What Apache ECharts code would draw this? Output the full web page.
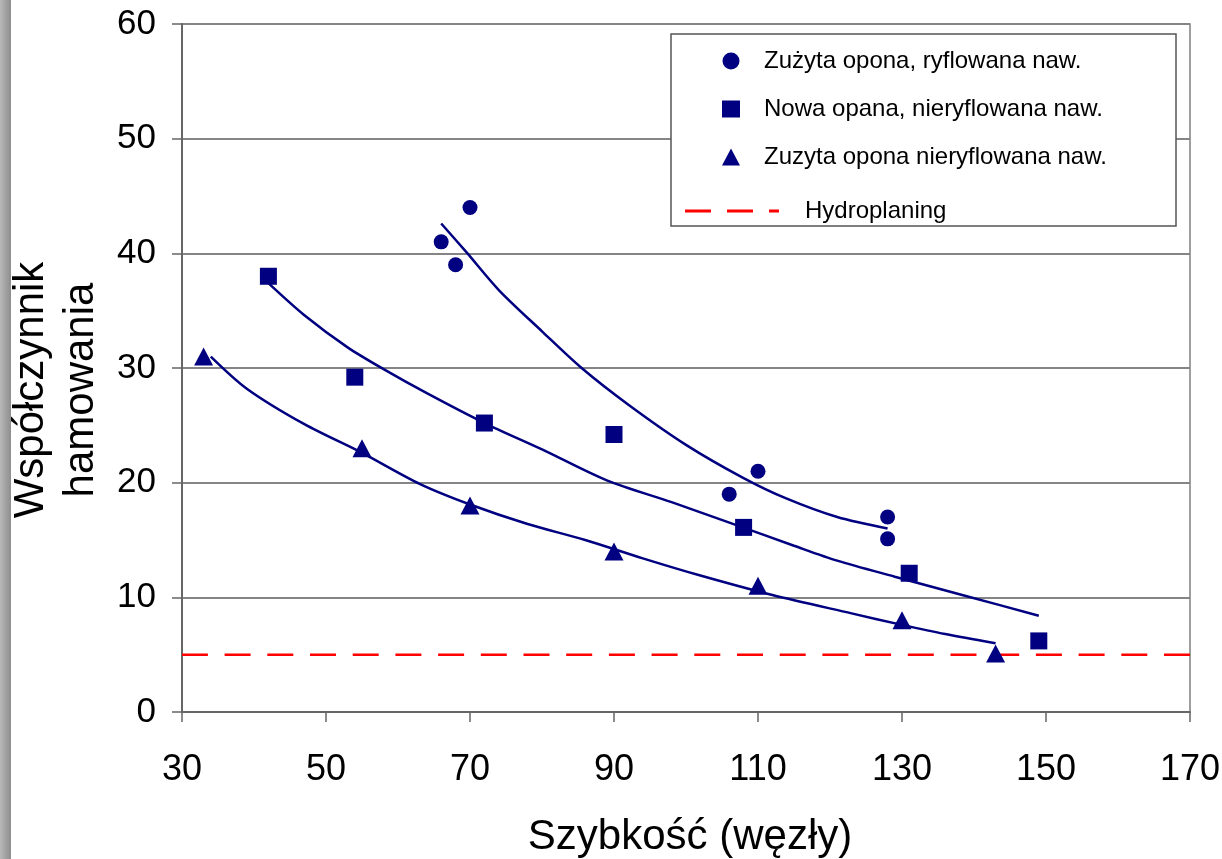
<!DOCTYPE html>
<html>
<head>
<meta charset="utf-8">
<title>Współczynnik hamowania</title>
<script src="https://cdn.jsdelivr.net/npm/echarts@6/dist/echarts.min.js"></script>
<style>
  html, body { margin: 0; padding: 0; background: #fff; }
  #chart { width: 1222px; height: 859px; }
</style>
</head>
<body>
<div id="chart"></div>
<script>
// nazwy serii
var seriesNames = ['Zużyta opona, ryflowana naw.', 'Nowa opana, nieryflowana naw.', 'Zuzyta opona nieryflowana naw.', 'Hydroplaning'];

// punkty pomiarowe [szybkość, współczynnik]
var wornGrooved = [[66, 41], [68, 39], [70, 44], [106, 19], [110, 21], [128, 17], [128, 15.1]];
var newUngrooved = [[42, 38], [54, 29.2], [72, 25.2], [90, 24.2], [108, 16.1], [131, 12.1], [149, 6.2]];
var wornUngrooved = [[33, 31], [55, 23], [70, 18], [90, 14], [110, 11], [130, 8], [143, 5.1]];

// linie trendu
var trendWornGrooved = [[66, 42.6], [69.5, 40.1], [74, 36.8], [80, 33.2], [85.5, 30], [92, 26.8], [100, 23.3], [108, 20.4], [114, 18.6], [121, 17.0], [128, 16.0]];
var trendNewUngrooved = [[42, 37.4], [47, 34.6], [53, 31.8], [58, 29.9], [64, 27.8], [72, 25.2], [80, 22.9], [89, 20.2], [98, 18.3], [107, 16.3], [115, 14.5], [121, 13.2], [129, 11.8], [139, 10.1], [149, 8.4]];
var trendWornUngrooved = [[34, 31.0], [39, 28.2], [47, 25.1], [55, 22.6], [63, 19.9], [70, 18.1], [78, 16.4], [86, 15.0], [94, 13.4], [102, 11.9], [112, 10.2], [123, 8.6], [130, 7.6], [136, 6.8], [143, 6.0]];

// granica hydroplaningu (od prawej do lewej)
var hydroLine = [[170, 5], [30, 5]];

// osie
var xMin = 30, xMax = 170, xStep = 20;
var yMin = 0, yMax = 60, yStep = 10;

var navy = '#000080';
var font = '"Liberation Sans", Arial, sans-serif';

var chart = echarts.init(document.getElementById('chart'));

function trendSeries(name, data) {
    return {
        name: name,
        type: 'line',
        data: data,
        smooth: 0.3,
        symbol: 'none',
        silent: true,
        lineStyle: { color: navy, width: 2.5 },
        z: 3
    };
}

var option = {
    backgroundColor: '#fff',
    animation: false,
    textStyle: { fontFamily: font },
    grid: {
        left: 182, right: 32, top: 24, bottom: 147,
        outerBoundsMode: 'none',
        containLabel: false,
        show: true, borderColor: '#808080', borderWidth: 1.5
    },
    graphic: [
        { type: 'rect', shape: { x: 0, y: 0, width: 11, height: 859 },
          style: { fill: new echarts.graphic.LinearGradient(0, 0, 1, 0, [
              { offset: 0, color: '#b8b8b8' }, { offset: 0.5, color: '#a2a2a2' }, { offset: 1, color: '#8e8e8e' }]) },
          z: 1 },
        { type: 'rect', shape: { x: 671, y: 34, width: 505, height: 192 },
          style: { fill: '#fff', stroke: '#555', lineWidth: 1.5 }, z: 50 }
    ],
    legend: [{
        data: seriesNames.slice(0, 3),
        orient: 'vertical',
        left: 717, top: 43,
        itemWidth: 18, itemHeight: 17,
        itemGap: 22,
        z: 60,
        textStyle: { fontSize: 24, color: '#000', fontFamily: font, lineHeight: 26, padding: [0, 0, 0, 19] }
    }, {
        data: [{ name: seriesNames[3], icon: 'path://M0,0H26V3H0Z M42,0H68V3H42Z M84,0H94V3H84Z', itemStyle: { color: '#ff0000' } }],
        orient: 'vertical',
        left: 680, top: 193,
        itemWidth: 96, itemHeight: 3,
        z: 60,
        textStyle: { fontSize: 24, color: '#000', fontFamily: font, lineHeight: 26, padding: [0, 0, 0, 20] }
    }],
    xAxis: {
        type: 'value',
        min: xMin, max: xMax, interval: xStep,
        name: 'Szybkość (węzły)',
        nameLocation: 'middle',
        nameGap: 104,
        nameTextStyle: { fontSize: 42, color: '#000', fontFamily: font, padding: [0, 0, 0, 8] },
        axisLine: { show: true, onZero: false, lineStyle: { color: '#666', width: 2 } },
        axisTick: { show: true, length: 10, lineStyle: { color: '#666', width: 1.5 } },
        axisLabel: { fontSize: 36, color: '#000', margin: 40, fontFamily: font },
        splitLine: { show: false }
    },
    yAxis: {
        type: 'value',
        min: yMin, max: yMax, interval: yStep,
        name: 'Współczynnik\nhamowania',
        nameLocation: 'middle',
        nameRotate: 90,
        nameGap: 74,
        nameTextStyle: { fontSize: 42, color: '#000', fontFamily: font, lineHeight: 50, padding: [0, 44, 0, 0] },
        axisLine: { show: true, lineStyle: { color: '#666', width: 2 } },
        axisTick: { show: true, length: 10, lineStyle: { color: '#666', width: 1.5 } },
        axisLabel: { fontSize: 35, color: '#000', margin: 26, fontFamily: font },
        splitLine: { show: true, lineStyle: { color: '#858585', width: 2 } }
    },
    series: [
        { name: seriesNames[0], type: 'scatter', data: wornGrooved, symbol: 'circle', symbolSize: 15,
          itemStyle: { color: navy, opacity: 1 }, z: 4 },
        { name: seriesNames[1], type: 'scatter', data: newUngrooved, symbol: 'rect', symbolSize: 17,
          itemStyle: { color: navy, opacity: 1 }, z: 4 },
        { name: seriesNames[2], type: 'scatter', data: wornUngrooved, symbol: 'triangle', symbolSize: [19, 18],
          itemStyle: { color: navy, opacity: 1 }, z: 4 },
        { name: seriesNames[3], type: 'line', data: hydroLine, symbol: 'none',
          lineStyle: { color: '#ff0000', width: 2.5, type: [26, 16.7] }, itemStyle: { color: '#ff0000' }, z: 2 },
        trendSeries('trend1', trendWornGrooved),
        trendSeries('trend2', trendNewUngrooved),
        trendSeries('trend3', trendWornUngrooved)
    ]
};

chart.setOption(option);
window.onresize = function () { chart.resize(); };
</script>
</body>
</html>
